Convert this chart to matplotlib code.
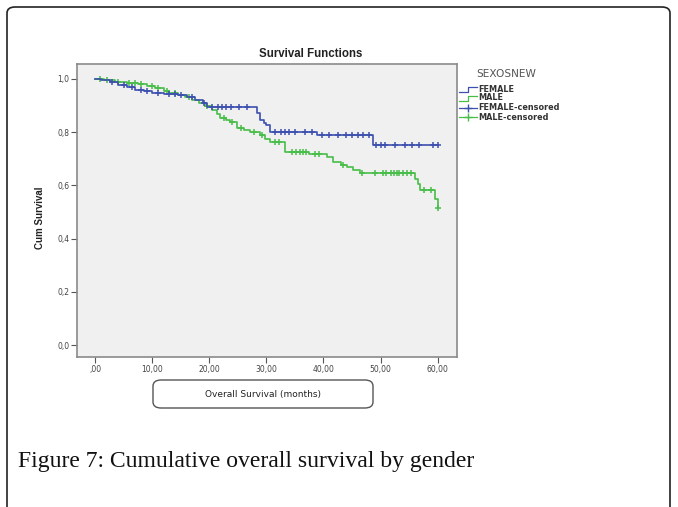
import numpy as np
import matplotlib
matplotlib.use("Agg")
import matplotlib.pyplot as plt
from matplotlib.patches import FancyBboxPatch
from matplotlib.lines import Line2D

# ---------------- data ----------------
female_times = [1.0, 2.5, 4.0, 5.5, 7.0, 8.5, 10.0, 12.0, 14.5, 16.0, 17.5, 18.8, 19.6,
                28.4, 28.9, 29.5, 30.0, 30.7, 38.8, 48.6]
female_surv = [0.994, 0.987, 0.977, 0.968, 0.959, 0.953, 0.947, 0.943, 0.938, 0.932, 0.921,
               0.910, 0.895, 0.872, 0.846, 0.835, 0.827, 0.801, 0.789, 0.752]
female_end = 60.0
female_censored = [3, 5, 6.5, 8, 9, 11, 13, 14, 15, 17, 19, 20.5, 21.5, 22.3, 23, 23.8, 25.2,
                   26.6, 31.5, 32.5, 33.2, 34, 35, 36.8, 38, 39.8, 41, 42.5, 44, 45, 46, 47, 48,
                   49.2, 50, 50.8, 52.6, 54.3, 55.5, 56.8, 59.2, 60.0]

male_times = [1.5, 3.5, 5.5, 7.5, 9.0, 10.5, 12.0, 13.0, 14.5, 15.8, 17.0, 18.1, 19.2, 20.5,
              21.3, 21.9, 23.0, 23.7, 24.9, 26.0, 27.2, 28.9, 29.8, 30.7, 33.3, 37.5, 40.7,
              41.7, 43.0, 44.2, 45.2, 46.4, 56.0, 56.6, 57.0, 59.6, 60.0]
male_surv = [0.995, 0.990, 0.985, 0.980, 0.974, 0.965, 0.955, 0.947, 0.940, 0.932, 0.922,
             0.910, 0.897, 0.883, 0.868, 0.853, 0.845, 0.838, 0.816, 0.808, 0.801, 0.789,
             0.776, 0.763, 0.726, 0.718, 0.707, 0.688, 0.678, 0.669, 0.658, 0.647, 0.625,
             0.605, 0.583, 0.548, 0.515]
male_end = 60.1
male_censored = [0.8, 2, 4, 6, 7, 8, 10, 11, 12.5, 14, 16.5, 19.5, 22.5, 24, 25.5, 27.8, 29.2,
                 31.5, 32.2, 34.5, 35.2, 35.8, 36.4, 37.0, 38.5, 39.3, 43.5, 46.8, 49, 50.5,
                 51, 51.8, 52.3, 52.8, 53.3, 54.0, 54.6, 55.3, 57.6, 58.8, 60.1]

x_ticks = [0, 10, 20, 30, 40, 50, 60]
x_ticklabels = [",00", "10,00", "20,00", "30,00", "40,00", "50,00", "60,00"]
y_ticks = [0.0, 0.2, 0.4, 0.6, 0.8, 1.0]
y_ticklabels = ["0,0", "0,2", "0,4", "0,6", "0,8", "1,0"]

legend_title = "SEXOSNEW"
legend_labels = ["FEMALE", "MALE", "FEMALE-censored", "MALE-censored"]
caption = "Figure 7: Cumulative overall survival by gender"

BLUE = "#3d50ae"
GREEN = "#48bd48"

W, H = 678, 507
fig = plt.figure(figsize=(W / 100, H / 100), dpi=100)
fig.patch.set_facecolor("white")

def fx(px):
    return px / W

def fy(py):
    return 1 - py / H

# ---------- main axes ----------
ax_l, ax_r, ax_t, ax_b = 77, 457, 64, 357
ax = fig.add_axes([fx(ax_l), fy(ax_b), fx(ax_r - ax_l), (ax_b - ax_t) / H])
ax.set_facecolor("#f0f0f0")
ax.set_xlim(-3.2, 63.4)
ax.set_ylim(-0.045, 1.056)

def step_arrays(times, surv, end):
    t = [0.0] + list(times) + [end]
    s = [1.0] + list(surv) + [surv[-1]]
    return t, s

def surv_at(times, surv, t):
    idx = np.searchsorted(np.array(times), t, side="right") - 1
    return 1.0 if idx < 0 else surv[idx]

ft, fs = step_arrays(female_times, female_surv, female_end)
mt, ms = step_arrays(male_times, male_surv, male_end)
ax.step(mt, ms, where="post", color=GREEN, lw=1.2, zorder=3)
ax.step(ft, fs, where="post", color=BLUE, lw=1.2, zorder=4)

fcy = [surv_at(female_times, female_surv, t) for t in female_censored]
mcy = [surv_at(male_times, male_surv, t) for t in male_censored]
ax.plot(male_censored, mcy, ls="none", marker="+", ms=4.5, mew=1.1, color=GREEN, zorder=3)
ax.plot(female_censored, fcy, ls="none", marker="+", ms=4.5, mew=1.1, color=BLUE, zorder=4)

ax.set_xticks(x_ticks)
ax.set_xticklabels(x_ticklabels)
ax.set_yticks(y_ticks)
ax.set_yticklabels(y_ticklabels)
ax.tick_params(axis="both", direction="out", length=4, width=0.8, color="#555555",
               labelsize=5.5, labelcolor="#444444", pad=1.5)
for lab in ax.get_xticklabels() + ax.get_yticklabels():
    lab.set_family("DejaVu Sans")
for sp in ax.spines.values():
    sp.set_color("#8a8a8a")
    sp.set_linewidth(1.2)

# ---------- titles ----------
fig.text(fx(311), fy(54), "Survival Functions", ha="center", va="center",
         fontsize=8.3, fontweight="bold", family="Liberation Sans", color="#222222")
fig.text(fx(40), fy(218), "Cum Survival", ha="center", va="center", rotation=90,
         fontsize=7, fontweight="bold", family="Liberation Sans", color="#222222")

# x label in rounded box
fig.patches.append(FancyBboxPatch((fx(153), fy(408)), fx(373 - 153), (408 - 380) / H,
                                  boxstyle="round,pad=0,rounding_size=0.012",
                                  transform=fig.transFigure, facecolor="white",
                                  edgecolor="#555555", lw=1.0))
fig.text(fx(263), fy(395), "Overall Survival (months)", ha="center", va="center",
         fontsize=6.5, family="DejaVu Sans", color="#222222")

# ---------- legend (manual) ----------
fig.text(fx(476), fy(74), legend_title, ha="left", va="center", fontsize=7.6,
         family="DejaVu Sans", color="#555555")
leg_y = [89, 98, 108, 117]
leg_cols = [BLUE, GREEN, BLUE, GREEN]
for i, (lab, col, py) in enumerate(zip(legend_labels, leg_cols, leg_y)):
    if i < 2:
        xs = [fx(459), fx(468), fx(468), fx(477)]
        ys = [fy(py + 3), fy(py + 3), fy(py - 2), fy(py - 2)]
        fig.lines.append(Line2D(xs, ys, color=col, lw=0.9, transform=fig.transFigure))
    else:
        fig.lines.append(Line2D([fx(459), fx(477)], [fy(py), fy(py)], color=col, lw=0.9,
                                transform=fig.transFigure))
        fig.lines.append(Line2D([fx(468)], [fy(py)], color=col, marker="+", ms=6, mew=1.0,
                                transform=fig.transFigure))
    fig.text(fx(478), fy(py), lab, ha="left", va="center", fontsize=5.9,
             fontweight="bold", family="DejaVu Sans", color="#333333")

# ---------- caption ----------
fig.text(fx(18), fy(462), caption, ha="left", va="center", fontsize=17.0,
         family="Liberation Serif", color="#111111")

# ---------- outer rounded frame ----------
fig.patches.append(FancyBboxPatch((fx(7), fy(540)), fx(670 - 7), (540 - 7) / H,
                                  boxstyle="round,pad=0,rounding_size=0.012",
                                  transform=fig.transFigure, facecolor="none",
                                  edgecolor="#222222", lw=1.2, clip_on=False))

fig.savefig("out.png", dpi=100)
